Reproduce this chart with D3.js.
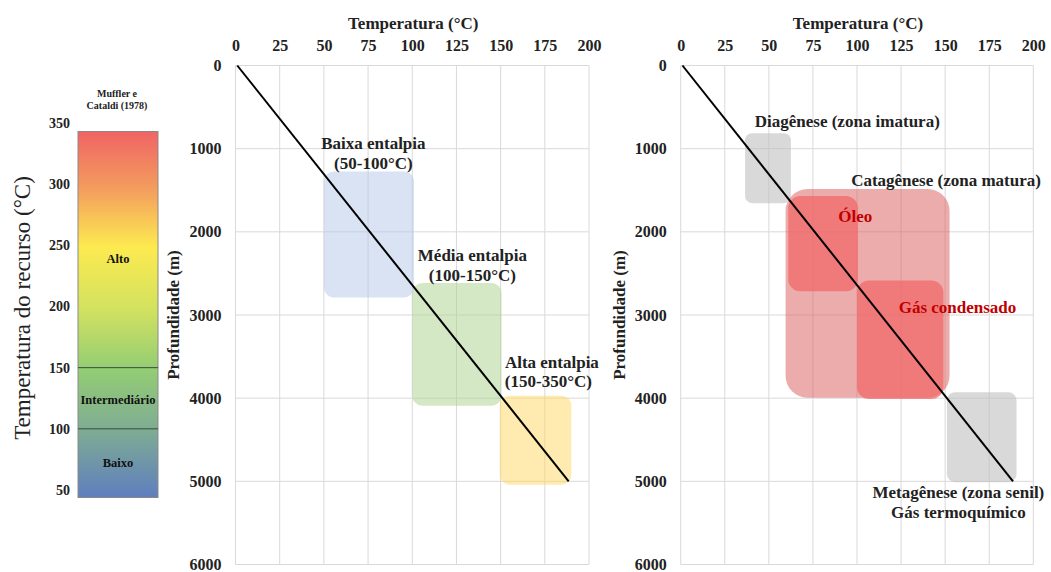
<!DOCTYPE html>
<html>
<head>
<meta charset="utf-8">
<script src="https://cdn.jsdelivr.net/npm/d3@7"></script>
<style>
    body { margin: 0; background: #fff; }
    svg { display: block; font-family: "Liberation Serif", "Times New Roman", serif; }
</style>
</head>
<body>
<div id="chart"></div>
<script>
// ---- data ----
const tempTicks = [0, 25, 50, 75, 100, 125, 150, 175, 200];
const depthTicks = [0, 1000, 2000, 3000, 4000, 5000, 6000];
const gradientLine = [{ t: 1, d: 0 }, { t: 188.5, d: 5000 }];

const enthalpyBoxes = [
    { name: 'baixa', t0: 50, t1: 101, d0: 1275, d1: 2790 },
    { name: 'media', t0: 100, t1: 150.5, d0: 2615, d1: 4090 },
    { name: 'alta', t0: 149.5, t1: 190, d0: 3970, d1: 5040 }
];
const enthalpyLabels = [
    { text: 'Baixa entalpia', t: 78, d: 935 },
    { text: '(50-100°C)', t: 78, d: 1175 },
    { text: 'Média entalpia', t: 134, d: 2280 },
    { text: '(100-150°C)', t: 134, d: 2520 },
    { text: 'Alta entalpia', t: 179, d: 3560 },
    { text: '(150-350°C)', t: 177, d: 3800 }
];

const maturityBoxes = [
    { name: 'diagenese', t0: 36.5, t1: 62.5, d0: 815, d1: 1655 },
    { name: 'catagenese', t0: 59.5, t1: 152.5, d0: 1485, d1: 3995 },
    { name: 'oleo', t0: 61, t1: 100.5, d0: 1570, d1: 2715 },
    { name: 'gas', t0: 100, t1: 149, d0: 2585, d1: 4010 },
    { name: 'metagenese', t0: 151, t1: 190.5, d0: 3930, d1: 5010 }
];
const maturityLabels = [
    { text: 'Diagênese (zona imatura)', t: 94.5, d: 670 },
    { text: 'Catagênese (zona matura)', t: 150.5, d: 1375 },
    { text: 'Óleo', t: 99, d: 1815, red: true },
    { text: 'Gás condensado', t: 157, d: 2905, red: true },
    { text: 'Metagênese (zona senil)', t: 157.5, d: 5130 },
    { text: 'Gás termoquímico', t: 157.5, d: 5375 }
];

const resourceTicks = [50, 100, 150, 200, 250, 300, 350];
const resourceSplits = [100, 150];
const resourceClasses = [
    { text: 'Alto', v: 239 },
    { text: 'Intermediário', v: 124 },
    { text: 'Baixo', v: 72 }
];

// ---- styles ----
const boxStyle = {
    baixa: { fill: 'rgb(180,199,231)', opacity: 0.5, rx: 10 },
    media: { fill: 'rgb(169,209,142)', opacity: 0.5, rx: 10 },
    alta: { fill: 'rgb(255,214,96)', opacity: 0.5, rx: 10 },
    diagenese: { fill: 'rgb(191,191,191)', opacity: 0.6, rx: 7 },
    catagenese: { fill: 'rgb(218,90,90)', opacity: 0.5, rx: 22 },
    oleo: { fill: 'rgb(242,100,100)', opacity: 0.7, rx: 12 },
    gas: { fill: 'rgb(242,100,100)', opacity: 0.7, rx: 12 },
    metagenese: { fill: 'rgb(191,191,191)', opacity: 0.6, rx: 8 }
};

const W = 1051, H = 572;
const svg = d3.select('#chart').append('svg')
    .attr('width', W)
    .attr('height', H);
const defs = svg.append('defs');

function drawPanel(left, right, boxes, labels) {
    const x = d3.scaleLinear().domain([0, 200]).range([left, right]);
    const y = d3.scaleLinear().domain([0, 6000]).range([65.5, 564.5]);
    const g = svg.append('g');

    g.append('g').selectAll('line.v')
        .data(tempTicks)
        .join('line')
        .attr('x1', d => x(d)).attr('x2', d => x(d))
        .attr('y1', y(0)).attr('y2', y(6000))
        .attr('stroke', '#d9d9d9').attr('stroke-width', 1);
    g.append('g').selectAll('line.h')
        .data(depthTicks)
        .join('line')
        .attr('x1', x(0)).attr('x2', x(200))
        .attr('y1', d => y(d)).attr('y2', d => y(d))
        .attr('stroke', '#d9d9d9').attr('stroke-width', 1);

    g.append('g').selectAll('rect')
        .data(boxes)
        .join('rect')
        .attr('x', d => x(d.t0))
        .attr('y', d => y(d.d0))
        .attr('width', d => x(d.t1) - x(d.t0))
        .attr('height', d => y(d.d1) - y(d.d0))
        .attr('rx', d => boxStyle[d.name].rx)
        .attr('fill', d => boxStyle[d.name].fill)
        .attr('fill-opacity', d => boxStyle[d.name].opacity);

    g.append('path')
        .datum(gradientLine)
        .attr('d', d3.line().x(d => x(d.t)).y(d => y(d.d)))
        .attr('fill', 'none')
        .attr('stroke', '#000')
        .attr('stroke-width', 2);

    const xAxis = g.append('g')
        .attr('transform', `translate(0, ${y(0) - 20})`)
        .attr('font-family', null)
        .call(d3.axisTop(x).tickValues(tempTicks).tickSize(0).tickPadding(0).tickFormat(d3.format('d')));
    xAxis.select('.domain').remove();
    xAxis.selectAll('text')
        .attr('dy', '0.35em')
        .attr('font-family', 'Liberation Serif')
        .attr('font-size', 16).attr('font-weight', 'bold').attr('fill', '#222');

    const yAxis = g.append('g')
        .attr('transform', `translate(${x(0) - 14}, 0)`)
        .call(d3.axisLeft(y).tickValues(depthTicks).tickSize(0).tickPadding(0).tickFormat(d3.format('d')));
    yAxis.select('.domain').remove();
    yAxis.selectAll('text')
        .attr('font-family', 'Liberation Serif')
        .attr('font-size', 16).attr('font-weight', 'bold').attr('fill', '#222');

    g.append('text')
        .attr('x', (x(0) + x(200)) / 2 + 1)
        .attr('y', 23)
        .attr('dy', '0.35em')
        .attr('text-anchor', 'middle')
        .attr('font-size', 17).attr('font-weight', 'bold').attr('fill', '#222')
        .text('Temperatura (°C)');

    g.append('text')
        .attr('transform', `translate(${x(0) - 62}, ${y(3000)}) rotate(-90)`)
        .attr('dy', '0.35em')
        .attr('text-anchor', 'middle')
        .attr('font-size', 17).attr('font-weight', 'bold').attr('fill', '#222')
        .text('Profundidade (m)');

    g.append('g').selectAll('text')
        .data(labels)
        .join('text')
        .attr('x', d => x(d.t))
        .attr('y', d => y(d.d))
        .attr('dy', '0.35em')
        .attr('text-anchor', 'middle')
        .attr('font-size', 17).attr('font-weight', 'bold')
        .attr('fill', d => d.red ? '#c00000' : '#222')
        .text(d => d.text);
}

drawPanel(235.5, 589, enthalpyBoxes, enthalpyLabels);
drawPanel(680.7, 1033.3, maturityBoxes, maturityLabels);

// ---- resource temperature colour bar ----
const r = d3.scaleLinear().domain([50, 350]).range([490, 123]);
const barX0 = 78, barX1 = 158, barY0 = 131.5, barY1 = 497.5;

const grad = defs.append('linearGradient')
    .attr('id', 'resourceGrad')
    .attr('x1', 0).attr('y1', 0).attr('x2', 0).attr('y2', 1);
[
    [0, '#f06464'], [0.15, '#f39a5e'], [0.316, '#fdea50'],
    [0.48, '#d4e25f'], [0.65, '#93cd74'], [0.82, '#7eab94'], [1, '#5f7ebf']
].forEach(s => grad.append('stop').attr('offset', s[0]).attr('stop-color', s[1]));

const cb = svg.append('g');
cb.append('rect')
    .attr('x', barX0).attr('y', barY0)
    .attr('width', barX1 - barX0).attr('height', barY1 - barY0)
    .attr('fill', 'url(#resourceGrad)')
    .attr('stroke', '#8a8a8a').attr('stroke-width', 1);

cb.selectAll('line.split')
    .data(resourceSplits)
    .join('line')
    .attr('x1', barX0).attr('x2', barX1)
    .attr('y1', d => r(d)).attr('y2', d => r(d))
    .attr('stroke', '#3a4a3a').attr('stroke-width', 1);

cb.selectAll('text.tick')
    .data(resourceTicks)
    .join('text')
    .attr('x', 70)
    .attr('y', d => r(d))
    .attr('dy', '0.35em')
    .attr('text-anchor', 'end')
    .attr('font-size', 14).attr('font-weight', 'bold').attr('fill', '#222')
    .text(d => d);

cb.selectAll('text.cls')
    .data(resourceClasses)
    .join('text')
    .attr('x', (barX0 + barX1) / 2)
    .attr('y', d => r(d.v))
    .attr('dy', '0.35em')
    .attr('text-anchor', 'middle')
    .attr('font-size', 12.5).attr('font-weight', 'bold').attr('fill', '#111')
    .text(d => d.text);

cb.append('text')
    .attr('x', 117).attr('y', 93)
    .attr('dy', '0.35em')
    .attr('text-anchor', 'middle')
    .attr('font-size', 10).attr('font-weight', 'bold').attr('fill', '#222')
    .text('Muffler e');
cb.append('text')
    .attr('x', 117).attr('y', 105)
    .attr('dy', '0.35em')
    .attr('text-anchor', 'middle')
    .attr('font-size', 10).attr('font-weight', 'bold').attr('fill', '#222')
    .text('Cataldi (1978)');

cb.append('text')
    .attr('transform', 'translate(22, 308) rotate(-90)')
    .attr('dy', '0.35em')
    .attr('text-anchor', 'middle')
    .attr('font-size', 23).attr('fill', '#222')
    .text('Temperatura do recurso (°C)');
</script>
</body>
</html>
